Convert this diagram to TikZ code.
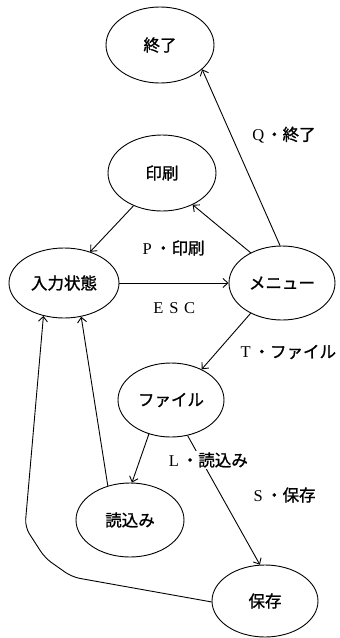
\documentclass[tikz,border=0pt]{standalone}
\usepackage{fontspec}
\setmainfont{Liberation Serif}
\newfontfamily\cjk[FakeBold=1.2]{Noto Sans CJK JP}
\usetikzlibrary{shapes.geometric,arrows.meta}
\newcommand\fwl[1]{\makebox[0.95em]{#1}}
\begin{document}
\begin{tikzpicture}[x=1pt,y=-1pt,
  state/.style={draw, ellipse, line width=0.9pt, inner sep=0pt, font=\fontsize{16.5}{18}\cjk},
  edge/.style={line width=0.9pt, -{Straight Barb[length=5pt,width=9pt]}},
  lbl/.style={font=\fontsize{16.5}{18}\selectfont, inner sep=1pt}]
\useasboundingbox (0,0) rectangle (340,638);
% states
\node[state, minimum width=108pt, minimum height=76pt] (end)   at (160,45)  {終了};
\node[state, minimum width=108pt, minimum height=76pt] (print) at (162,173) {印刷};
\node[state, minimum width=110pt, minimum height=70pt] (input) at (64,283)  {入力状態};
\node[state, minimum width=106pt, minimum height=74pt] (menu)  at (282,283) {メニュー};
\node[state, minimum width=106pt, minimum height=74pt] (file)  at (171,400) {ファイル};
\node[state, minimum width=108pt, minimum height=74pt] (load)  at (130,520) {読込み};
\node[state, minimum width=106pt, minimum height=72pt] (save)  at (265,601) {保存};
% connectors
\draw[edge] (menu.93) -- (end.-30);
\draw[edge] (menu.136) -- (print.-46);
\draw[edge] (print.-131) -- (input.50);
\draw[edge] (input.east) -- (menu.west);
\draw[edge] (menu.-136) -- (file.45);
\draw[edge] (file.-123) -- (load.87);
\draw[edge] (file.-65) -- (save.98);
\draw[edge] (load.123) -- (input.-63);
\coordinate (c1) at (72,577);
\coordinate (c2) at (45,558);
\coordinate (c3) at (25,527);
\draw[edge, rounded corners=8pt] (save.181) -- (c1) -- (c2) -- (c3) -- (input.-122);
% labels
\node[lbl] (lq) at (283,135) {\fwl{Q}{\cjk ・終了}};
\node[lbl] (lp) at (172,248) {\fwl{P}{\cjk ・印刷}};
\node[lbl] (le) at (174,308) {\fwl{E}\fwl{S}\fwl{C}};
\node[lbl] (lt) at (287,352) {\fwl{T}{\cjk ・ファイル}};
\node[lbl, fill=white] (ll) at (207,460) {\fwl{L}{\cjk ・読込み}};
\node[lbl] (ls) at (283,495) {\fwl{S}{\cjk ・保存}};
\end{tikzpicture}
\end{document}
